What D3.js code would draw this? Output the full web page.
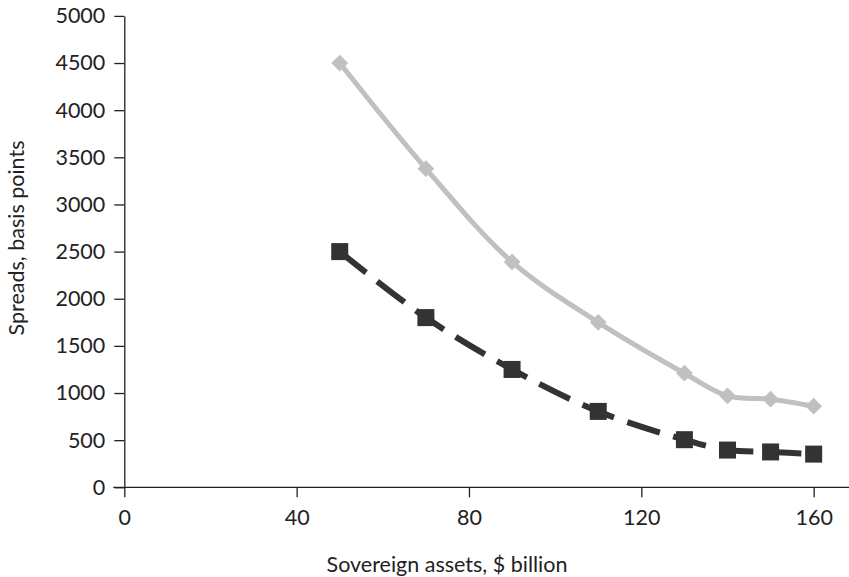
<!DOCTYPE html>
<html><head><meta charset="utf-8">
<script src="https://cdn.jsdelivr.net/npm/d3@7"></script>
<style>body{margin:0;background:#fff}svg{display:block}</style>
</head><body>
<svg id="c" width="849" height="577"></svg>
<script>
const xValues = [50, 70, 90, 110, 130, 140, 150, 160];
const upperSpreads = [4500, 3380, 2390, 1750, 1210, 970, 935, 860];
const lowerSpreads = [2500, 1800, 1250, 805, 505, 395, 375, 352];
const xTicks = [0, 40, 80, 120, 160];
const yTicks = [0, 500, 1000, 1500, 2000, 2500, 3000, 3500, 4000, 4500, 5000];
const xLabel = "Sovereign assets, $ billion";
const yLabel = "Spreads, basis points";

const svg = d3.select("#c");
const font = "Lato, 'Open Sans', sans-serif";
const fs = 21.5;
const x = d3.scaleLinear().domain([0, 168.2]).range([124.3, 849]);
const y = d3.scaleLinear().domain([0, 5000]).range([487.3, 15.9]);

const xAxis = svg.append("g").attr("transform", `translate(0,${y(0)})`)
  .call(d3.axisBottom(x).tickValues(xTicks).tickFormat(d3.format("d")).tickSize(10).tickSizeOuter(0).tickPadding(12));
const yAxis = svg.append("g").attr("transform", `translate(${x(0)},0)`)
  .call(d3.axisLeft(y).tickValues(yTicks).tickFormat(d3.format("d")).tickSize(10).tickSizeOuter(0).tickPadding(9));
[xAxis, yAxis].forEach(a => {
  a.selectAll("path,line").attr("stroke", "#222").attr("stroke-width", 1.3);
  a.selectAll("text").attr("font-family", font).attr("font-size", fs).attr("fill", "#222");
});
xAxis.select("path.domain").attr("d", `M${x(0)-11},0H849`);

const line = d3.line().x((d,i)=>x(xValues[i])).y(d=>y(d)).curve(d3.curveCatmullRom.alpha(0.5));

svg.append("path").datum(upperSpreads).attr("d", line)
  .attr("fill","none").attr("stroke","#c0c0c0").attr("stroke-width",5);
svg.append("path").datum(lowerSpreads).attr("d", line)
  .attr("fill","none").attr("stroke","#333").attr("stroke-width",6)
  .attr("stroke-dasharray","34,14");

svg.append("g").selectAll("path").data(upperSpreads).join("path")
  .attr("d", d3.symbol(d3.symbolDiamond2, 180))
  .attr("transform",(d,i)=>`translate(${x(xValues[i])},${y(d)})`)
  .attr("fill","#c0c0c0");
svg.append("g").selectAll("rect").data(lowerSpreads).join("rect")
  .attr("x",(d,i)=>x(xValues[i])-8.5).attr("y",d=>y(d)-8.5)
  .attr("width",17).attr("height",17).attr("fill","#333");

svg.append("text").attr("x", 447).attr("y", 572).attr("text-anchor","middle")
  .attr("font-family", font).attr("font-size", fs).attr("fill","#222").text(xLabel);
svg.append("text").attr("transform","translate(24,238) rotate(-90)").attr("text-anchor","middle")
  .attr("font-family", font).attr("font-size", fs).attr("fill","#222").text(yLabel);
</script>
</body></html>
